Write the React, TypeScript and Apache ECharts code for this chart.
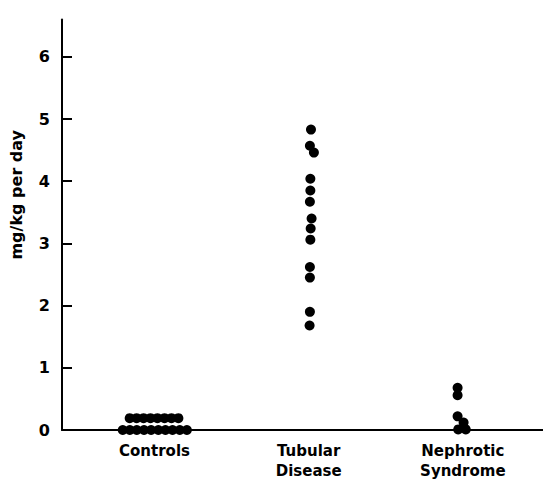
import React, { useEffect, useRef } from "react";
import * as echarts from "echarts";

const categories = ["Controls", "Tubular\nDisease", "Nephrotic\nSyndrome"];
const yTickValues = [1, 2, 3, 4, 5, 6];
const yLabelValues = [0, 1, 2, 3, 4, 5, 6];

// Controls: two rows of dots (value, horizontal jitter around category 1)
const controlsValues = [
  0.19, 0.19, 0.19, 0.19, 0.19, 0.19, 0.19, 0.19,
  0, 0, 0, 0, 0, 0, 0, 0, 0, 0,
];
const controlsJitter = [
  -0.161, -0.116, -0.071, -0.026, 0.019, 0.065, 0.11, 0.155,
  -0.206, -0.16, -0.115, -0.068, -0.022, 0.025, 0.071, 0.117, 0.164, 0.21,
];

const tubularValues = [4.83, 4.57, 4.46, 4.04, 3.85, 3.67, 3.4, 3.24, 3.06, 2.62, 2.45, 1.9, 1.68];
const tubularJitter = [0.015, 0.008, 0.034, 0.011, 0.011, 0.008, 0.019, 0.013, 0.011, 0.008, 0.008, 0.008, 0.006];

const nephroticValues = [0.68, 0.56, 0.22, 0.12, 0.01, 0.01];
const nephroticJitter = [-0.034, -0.034, -0.034, 0.005, -0.03, 0.019];

const FONT = "DejaVu Sans";

export default function App() {
  const ref = useRef<HTMLDivElement>(null);
  useEffect(() => {
    if (!ref.current) return;
    const chart = echarts.init(ref.current, null, { renderer: "svg" });
    const groups = [
      { values: controlsValues, jitter: controlsJitter },
      { values: tubularValues, jitter: tubularJitter },
      { values: nephroticValues, jitter: nephroticJitter },
    ];
    const data: number[][] = [];
    groups.forEach((g, i) => {
      g.values.forEach((v, j) => data.push([i + 1 + g.jitter[j], v]));
    });
    chart.setOption({
      animation: false,
      backgroundColor: "#ffffff",
      grid: { left: 57, right: 0, top: 19.5, bottom: 53, containLabel: false },
      xAxis: {
        type: "value",
        min: 0.4,
        max: 3.52,
        splitLine: { show: false },
        axisTick: { show: false },
        axisLine: { show: true, onZero: false, lineStyle: { color: "#000", width: 2 } },
        axisLabel: {
          customValues: [1, 2, 3],
          formatter: (v: number) => categories[Math.round(v) - 1] ?? "",
          color: "#000",
          fontFamily: FONT,
          fontWeight: "bold",
          fontSize: 15,
          lineHeight: 20,
          margin: 11,
        },
      },
      yAxis: {
        type: "value",
        min: 0,
        max: 6.6,
        splitLine: { show: false },
        axisLine: { show: true, lineStyle: { color: "#000", width: 2 } },
        axisTick: {
          show: true,
          inside: true,
          length: 10,
          customValues: yTickValues,
          lineStyle: { color: "#000", width: 2 },
        },
        axisLabel: {
          customValues: yLabelValues,
          color: "#000",
          fontFamily: FONT,
          fontWeight: "bold",
          fontSize: 16,
          margin: 12,
        },
        name: "mg/kg per day",
        nameLocation: "middle",
        nameGap: 38,
        nameTextStyle: {
          color: "#000",
          fontFamily: FONT,
          fontWeight: "bold",
          fontSize: 16,
          padding: [0, 0, 0, 60],
        },
      },
      series: [
        {
          type: "scatter",
          data,
          symbol: "circle",
          symbolSize: 10,
          itemStyle: { color: "#000", opacity: 1 },
        },
      ],
    });
    return () => chart.dispose();
  }, []);
  return (
    <div
      ref={ref}
      style={{ position: "absolute", left: 0, top: 0, width: 543, height: 483 }}
    />
  );
}
